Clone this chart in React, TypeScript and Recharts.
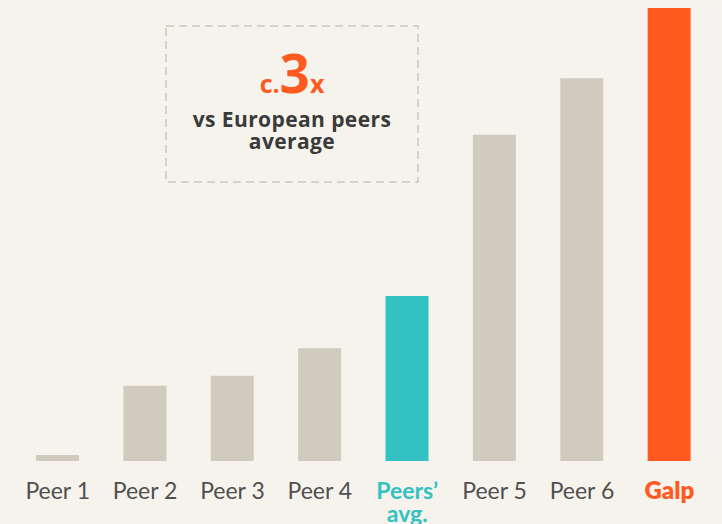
import { BarChart, Bar, XAxis, YAxis, Cell } from 'recharts';

const categories = ['Peer 1', 'Peer 2', 'Peer 3', 'Peer 4', "Peers' avg.", 'Peer 5', 'Peer 6', 'Galp'];
const values = [1.3, 16.6, 18.8, 24.9, 36.4, 72.0, 84.5, 100];
const barColors = ['#cfcbbf', '#cfcbbf', '#cfcbbf', '#cfcbbf', '#33c1c1', '#cfcbbf', '#cfcbbf', '#ff5a1f'];

const data = categories.map((name, i) => ({ name, value: values[i] }));

const FONT = 'Lato, "Open Sans", sans-serif';
const BOX_FONT = '"Open Sans", Lato, sans-serif';

// text baseline sits ~38px under the bars' baseline
const Tick = (props: any) => {
  const { x, payload } = props;
  const label: string = payload.value;
  const base = 499;
  if (label === "Peers' avg.") {
    return (
      <text x={x} y={base} textAnchor="middle" fontFamily={FONT} fontSize={23} fill="#33c1c1" fontWeight={700}>
        <tspan x={x}>Peers’</tspan>
        <tspan x={x} dy={23}>avg.</tspan>
      </text>
    );
  }
  const isGalp = label === 'Galp';
  return (
    <text
      x={x}
      y={base}
      textAnchor="middle"
      fontFamily={FONT}
      fontSize={isGalp ? 24 : 23}
      fill={isGalp ? '#ff5a1f' : '#505050'}
      fontWeight={isGalp ? 800 : 400}
    >
      {label}
    </text>
  );
};

export default function App() {
  return (
    <div style={{ position: 'absolute', left: 0, top: 0, width: 722, height: 524, background: '#f6f3ec', overflow: 'hidden' }}>
      <style>{`body{margin:0}`}</style>
      <BarChart width={722} height={524} data={data} margin={{ top: 8, right: 9, bottom: 0, left: 14 }}>
        <XAxis dataKey="name" axisLine={false} tickLine={false} interval={0} tick={<Tick />} height={63} />
        <YAxis hide domain={[0, 100]} />
        <Bar dataKey="value" barSize={43} isAnimationActive={false}>
          {data.map((_d, i) => (
            <Cell key={`cell-${i}`} fill={barColors[i]} />
          ))}
        </Bar>
      </BarChart>
      <svg width={722} height={524} style={{ position: 'absolute', left: 0, top: 0, pointerEvents: 'none' }}>
        <rect x={166} y={26} width={252} height={156} fill="none" stroke="#d6d2c8" strokeWidth={2} strokeDasharray="8 5" />
        <text x={292} y={93} textAnchor="middle" fontFamily={BOX_FONT} fontWeight={700} fill="#ff5a1f">
          <tspan fontSize={25}>c.</tspan>
          <tspan fontSize={53}>3</tspan>
          <tspan fontSize={25}>x</tspan>
        </text>
        <text x={292} y={127} textAnchor="middle" fontFamily={BOX_FONT} fontWeight={700} fontSize={21} letterSpacing={0.4} fill="#3a3a3a">
          vs European peers
        </text>
        <text x={292} y={149} textAnchor="middle" fontFamily={BOX_FONT} fontWeight={700} fontSize={21} letterSpacing={0.4} fill="#3a3a3a">
          average
        </text>
      </svg>
    </div>
  );
}
